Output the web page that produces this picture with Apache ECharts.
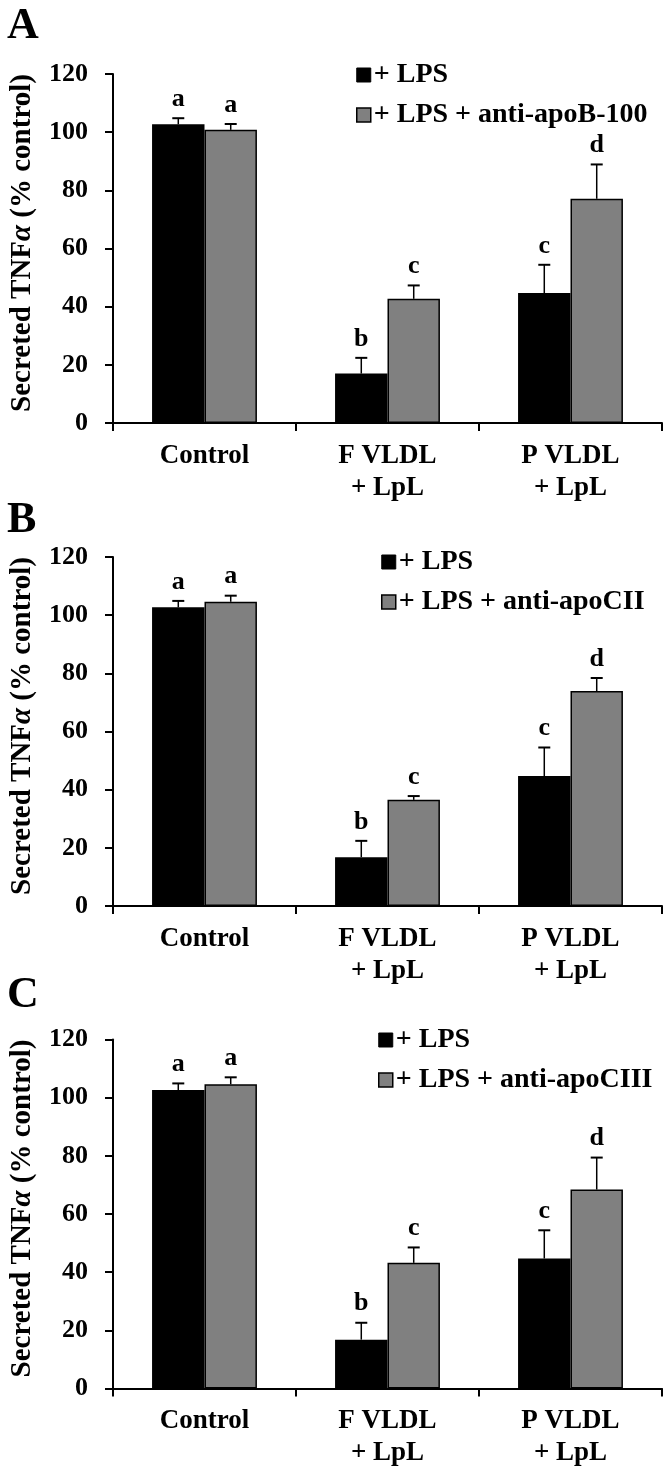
<!DOCTYPE html>
<html><head><meta charset="utf-8">
<script src="https://cdn.jsdelivr.net/npm/echarts@6/dist/echarts.min.js"></script>
<style>html,body{margin:0;padding:0;background:#fff}#c{width:668px;height:1474px}</style>
</head><body><div id="c"></div>
<script>
// ---------- data ----------
const categories = ['Control', 'F VLDL\n+ LpL', 'P VLDL\n+ LpL'];
const panelLabels = ['A', 'B', 'C'];
const lpsName = '+ LPS';
const antibodyNames = ['+ LPS + anti-apoB-100', '+ LPS + anti-apoCII', '+ LPS + anti-apoCIII'];
const yTickMin = 0, yTickMax = 120, yTickStep = 20;

const lpsValuesA = [102.7, 17.0, 44.7];
const lpsErrorsA = [2.1, 5.4, 9.7];
const abValuesA  = [100.8, 42.7, 77.1];
const abErrorsA  = [2.0, 4.6, 11.8];

const lpsValuesB = [102.7, 16.8, 44.7];
const lpsErrorsB = [2.2, 5.6, 9.8];
const abValuesB  = [104.6, 36.5, 73.9];
const abErrorsB  = [2.1, 1.3, 4.5];

const lpsValuesC = [102.6, 16.8, 44.7];
const lpsErrorsC = [2.3, 5.8, 9.7];
const abValuesC  = [104.6, 43.2, 68.4];
const abErrorsC  = [2.4, 5.3, 11.0];

const lpsLetters = ['a', 'b', 'c'];
const abLetters  = ['a', 'c', 'd'];

// ---------- layout / style ----------
const FONT = '"Liberation Serif", "Times New Roman", serif';
const GAP = 0.427;
const gridTops = [74, 557, 1039.5];
const gridH = 349;
const legendLefts = [356, 381, 378];
const legendRow1 = [73, 560, 1038];
const labelYs = [26.5, 521, 996];

const panels = [
  {lv: lpsValuesA, le: lpsErrorsA, av: abValuesA, ae: abErrorsA},
  {lv: lpsValuesB, le: lpsErrorsB, av: abValuesB, ae: abErrorsB},
  {lv: lpsValuesC, le: lpsErrorsC, av: abValuesC, ae: abErrorsC}
];

const grids = [], xAxes = [], yAxes = [], series = [], legends = [], graphics = [];

function errRender(side, letters) {
  return function (params, api) {
    const cat = api.value(0), v = api.value(1), e = api.value(2);
    const catW = api.size([1, 0])[0];
    const barW = catW * (1 - GAP) / 2;
    const off = side === 0 ? -barW / 2 : barW / 2;
    const b = api.coord([cat, v]);
    const t = api.coord([cat, v + e]);
    const x = b[0] + off;
    return {
      type: 'group',
      children: [
        {type: 'line', shape: {x1: x, y1: b[1], x2: x, y2: t[1]}, style: {stroke: '#000', lineWidth: 1.5}},
        {type: 'line', shape: {x1: x - 6, y1: t[1], x2: x + 6, y2: t[1]}, style: {stroke: '#000', lineWidth: 2}},
        {type: 'text', x: x, y: t[1] - 6, style: {text: letters[params.dataIndex], font: 'bold 26px ' + FONT, fill: '#000', align: 'center', verticalAlign: 'bottom'}}
      ]
    };
  };
}

panels.forEach((p, i) => {
  grids.push({left: 112, right: 6, top: gridTops[i], height: gridH});
  xAxes.push({
    type: 'category', gridIndex: i, data: categories,
    axisLine: {lineStyle: {color: '#000', width: 2}},
    axisTick: {show: true, length: 8, lineStyle: {color: '#000', width: 2}},
    axisLabel: {color: '#000', fontFamily: FONT, fontWeight: 'bold', fontSize: 27, lineHeight: 32, margin: 17}
  });
  yAxes.push({
    type: 'value', gridIndex: i, min: yTickMin, max: yTickMax, interval: yTickStep,
    splitLine: {show: false},
    axisLine: {show: true, lineStyle: {color: '#000', width: 2}},
    axisTick: {show: true, length: 8, lineStyle: {color: '#000', width: 2}},
    axisLabel: {color: '#000', fontFamily: FONT, fontWeight: 'bold', fontSize: 26, margin: 25},
    name: '{n|Secreted TNF}{i|α}{n| (% control)}',
    nameLocation: 'middle', nameGap: 76,
    nameTextStyle: {
      padding: [0, 0, 0, 11],
      rich: {
        n: {color: '#000', fontFamily: FONT, fontWeight: 'bold', fontSize: 29},
        i: {color: '#000', fontFamily: FONT, fontWeight: 'bold', fontStyle: 'italic', fontSize: 29}
      }
    }
  });
  series.push({
    type: 'bar', name: lpsName, xAxisIndex: i, yAxisIndex: i, data: p.lv,
    barGap: '0%', barCategoryGap: (GAP * 100) + '%',
    itemStyle: {color: '#000', borderColor: '#000', borderWidth: 1.5}
  });
  series.push({
    type: 'bar', name: antibodyNames[i], xAxisIndex: i, yAxisIndex: i, data: p.av,
    barGap: '0%', barCategoryGap: (GAP * 100) + '%',
    itemStyle: {color: '#808080', borderColor: '#000', borderWidth: 1.5}
  });
  series.push({
    type: 'custom', name: 'err-lps-' + i, xAxisIndex: i, yAxisIndex: i, z: 5,
    data: p.lv.map((v, k) => [k, v, p.le[k]]),
    renderItem: errRender(0, lpsLetters)
  });
  series.push({
    type: 'custom', name: 'err-ab-' + i, xAxisIndex: i, yAxisIndex: i, z: 5,
    data: p.av.map((v, k) => [k, v, p.ae[k]]),
    renderItem: errRender(1, abLetters)
  });
  legends.push({
    data: [
      {name: lpsName, itemStyle: {color: '#000', borderColor: '#000', borderWidth: 1}},
      {name: antibodyNames[i], itemStyle: {color: '#808080', borderColor: '#000', borderWidth: 1.5}}
    ],
    orient: 'vertical', left: legendLefts[i], top: legendRow1[i] - 12,
    padding: 0, itemGap: 12, itemWidth: 14, itemHeight: 14, icon: 'rect',
    selectedMode: false,
    textStyle: {color: '#000', fontFamily: FONT, fontWeight: 'bold', fontSize: 28, lineHeight: 24, padding: [0, 0, 0, -2]}
  });
  graphics.push({
    type: 'text', left: 7, top: labelYs[i] - 22,
    style: {text: panelLabels[i], font: 'bold 44px ' + FONT, fill: '#000'}
  });
});

const chart = echarts.init(document.getElementById('c'), null, {renderer: 'canvas'});
chart.setOption({
  animation: false,
  backgroundColor: '#fff',
  grid: grids, xAxis: xAxes, yAxis: yAxes, series: series, legend: legends, graphic: graphics
});
</script>
</body></html>
